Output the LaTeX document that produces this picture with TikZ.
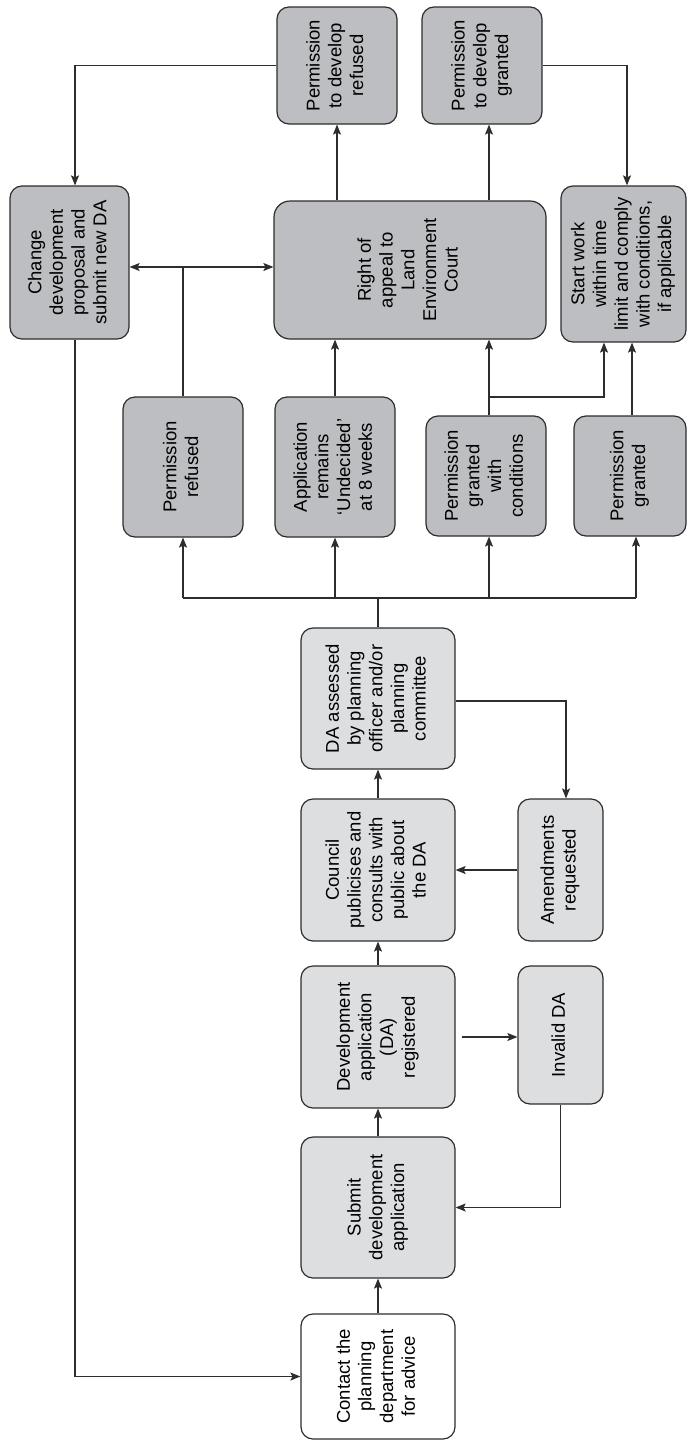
\documentclass[tikz,border=0pt]{standalone}
\usepackage{fontspec}
\setmainfont{Liberation Sans}
\usepackage{graphicx}
\usetikzlibrary{arrows.meta, positioning, calc}

\definecolor{darkfill}{RGB}{189,190,193}
\definecolor{lightfill}{RGB}{221,222,224}
\definecolor{inkline}{RGB}{45,45,45}

% rotated multi-line label
\newcommand{\uptext}[1]{\rotatebox{90}{\begin{tabular}{@{}c@{}}#1\end{tabular}}}

\tikzset{
  flowbox/.style={draw=inkline, line width=1.2pt, rounded corners=12pt, inner sep=0pt,
    font=\fontsize{18.5}{21.7}\selectfont},
  darkbox/.style={flowbox, fill=darkfill},
  lightbox/.style={flowbox, fill=lightfill},
  plainbox/.style={flowbox, fill=white},
  link/.style={draw=inkline, line width=1.2pt},
  arr/.style={link, -{Stealth[length=10pt, width=8pt, inset=2pt]}},
  twoarr/.style={link, {Stealth[length=10pt, width=8pt, inset=2pt]}-{Stealth[length=10pt, width=8pt, inset=2pt]}}
}

\begin{document}
\begin{tikzpicture}[x=1pt, y=-1pt]
    \useasboundingbox (0,0) rectangle (688,1443);

    % top row: outcomes of appeal
    \node[darkbox, minimum width=120pt, minimum height=117pt] (refusedA) at (337,65.5) {\uptext{Permission\\to develop\\refused}};
    \node[darkbox, minimum width=120pt, minimum height=117pt] (grantedA) at (482,65.5) {\uptext{Permission\\to develop\\granted}};

    % second row
    \node[darkbox, minimum width=119pt, minimum height=153pt] (change) at (69.5,262.5) {\uptext{Change\\development\\proposal and\\submit new DA}};
    \node[darkbox, minimum width=272pt, minimum height=138pt, rounded corners=16pt] (appeal) at (410,270) {\uptext{Right of\\appeal to\\Land\\Environment\\Court}};
    \node[darkbox, minimum width=125pt, minimum height=156pt] (start) at (623.5,264) {\uptext{Start work\\within time\\limit and comply\\with conditions,\\if applicable}};

    % decisions
    \node[darkbox, minimum width=120pt, minimum height=140pt] (refused) at (183,467) {\uptext{Permission\\refused}};
    \node[darkbox, minimum width=120pt, minimum height=140pt] (undecided) at (335,467) {\uptext{Application\\remains\\‘Undecided’\\at 8 weeks}};
    \node[darkbox, minimum width=120pt, minimum height=120pt] (conditions) at (486,476) {\uptext{Permission\\granted\\with\\conditions}};
    \node[darkbox, minimum width=112pt, minimum height=120pt] (granted) at (630,476) {\uptext{Permission\\granted}};

    % main column
    \node[lightbox, minimum width=154pt, minimum height=141pt] (assess) at (378,698.5) {\uptext{DA assessed\\by planning\\officer and/or\\planning\\committee}};
    \node[lightbox, minimum width=154pt, minimum height=142pt] (council) at (378,870) {\uptext{Council\\publicises and\\consults with\\public about\\the DA}};
    \node[lightbox, minimum width=154pt, minimum height=142pt] (register) at (378,1037) {\uptext{Development\\application\\(DA)\\registered}};
    \node[lightbox, minimum width=154pt, minimum height=141pt] (submit) at (378,1207.5) {\uptext{Submit\\development\\application}};
    \node[plainbox, minimum width=154pt, minimum height=125pt] (contact) at (378,1376.5) {\uptext{Contact the\\planning\\department\\for advice}};

    % side column
    \node[lightbox, minimum width=85pt, minimum height=142pt] (amend) at (560.5,870) {\uptext{Amendments\\requested}};
    \node[lightbox, minimum width=85pt, minimum height=138pt] (invalid) at (560.5,1035) {\uptext{Invalid DA}};

    % junctions
    \coordinate (split) at (183,267);
    \coordinate (fork) at (378,598);
    \coordinate (cbranch) at (489,397);
    \coordinate (gin) at ([xshift=6pt]granted.south);
    \coordinate (gout) at ([xshift=2pt]granted.north);

    % main flow
    \draw[arr] (contact.north) -- (submit.south);
    \draw[arr] (submit.north) -- (register.south);
    \draw[arr] (register.north) -- (council.south);
    \draw[arr] (council.north) -- (assess.south);

    % invalid / amendments loops
    \draw[arr, shorten <=6pt] (register.east) -- (register.east -| invalid.west);
    \draw[arr] (invalid.south) |- (submit.east);
    \draw[arr] ([yshift=-2.5pt]assess.east) -| ([xshift=5.5pt]amend.north);
    \draw[arr] (amend.west) -- (council.east);

    % decision fork
    \draw[link] (assess.north) -- (fork);
    \draw[link] (fork -| refused.south) -- (fork -| gin);
    \draw[arr] (fork -| refused.south) -- (refused.south);
    \draw[arr] (fork -| undecided.south) -- (undecided.south);
    \draw[arr] (fork -| cbranch) -- (cbranch |- conditions.south);
    \draw[arr] (fork -| gin) -- (gin);

    % to appeal and to start work
    \draw[link, line width=2.4pt] (refused.north) -- (split);
    \draw[twoarr] (change.east |- split) -- (appeal.west |- split);
    \draw[arr] (undecided.north) -- (undecided.north |- appeal.south);
    \draw[arr] (cbranch |- conditions.north) -- (cbranch |- appeal.south);
    \draw[arr] (cbranch) -| ([xshift=-19.5pt]start.south);
    \draw[arr] (gout) -- (gout |- start.south);

    % appeal outcomes
    \draw[arr] (refusedA.south |- appeal.north) -- (refusedA.south);
    \draw[arr] ([xshift=7pt]grantedA.south |- appeal.north) -- ([xshift=7pt]grantedA.south);
    \draw[arr] (grantedA.east) -| ([xshift=3.5pt]start.north);
    \draw[arr] (refusedA.west) -| ([xshift=5.5pt]change.north);

    % back to the start
    \draw[arr] ([xshift=5.5pt]change.south) |- (contact.west);
\end{tikzpicture}
\end{document}
